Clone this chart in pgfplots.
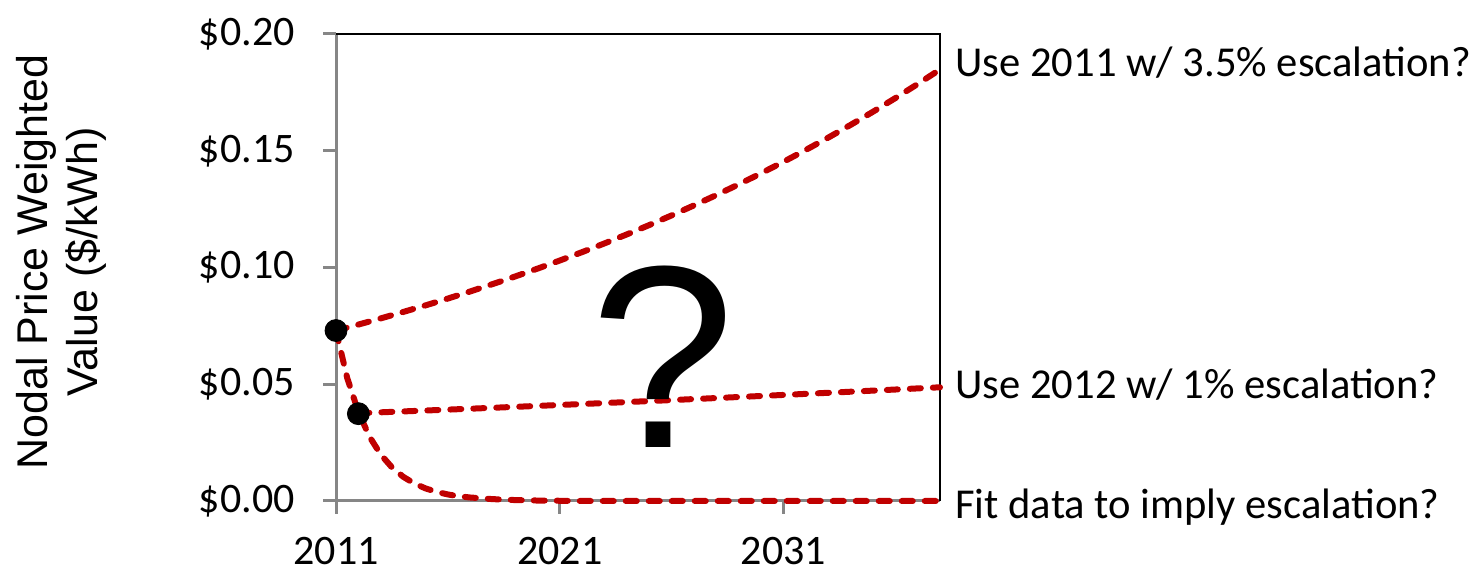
\documentclass[border=0pt]{standalone}
\usepackage{fontspec}
\setmainfont{Carlito}
\newfontfamily\arial{Liberation Sans}
\usepackage{pgfplots}
\pgfplotsset{compat=1.18}
\definecolor{dred}{HTML}{C00000}
\definecolor{axgray}{HTML}{868686}
\begin{document}
\begin{tikzpicture}
\begin{axis}[
  set layers,
  at={(168pt,35.5pt)}, anchor=south west,
  scale only axis, width=302pt, height=233.5pt,
  xmin=2011, xmax=2038, ymin=0, ymax=0.2,
  axis lines*=left,
  axis line style={axgray, line width=1.5pt, -},
  xtick={2011,2021,2031}, xticklabels={2011,2021,2031},
  ytick={0,0.05,0.1,0.15,0.2},
  yticklabels={\$0.00,\$0.05,\$0.10,\$0.15,\$0.20},
  tick align=outside, major tick length=6.5pt,
  tick style={axgray, line width=1.5pt},
  ticklabel style={font=\fontsize{21}{25}\selectfont, inner sep=0pt},
  yticklabel style={anchor=east, xshift=-14pt},
  xticklabel style={anchor=north, yshift=-11.5pt},
  clip=false,
]
\draw[black, line width=1.3pt] (rel axis cs:0,1) -- (rel axis cs:1,1) -- (rel axis cs:1,0);
\addplot[only marks, mark=*, mark size=5.5pt, black] coordinates {(2011,0.0730) (2012,0.0374)};
\addplot[dred, line width=3pt, line cap=round, dash pattern=on 5.5pt off 6pt] coordinates {
(2011,0.0730) (2012,0.07556) (2013,0.07820) (2014,0.08094) (2015,0.08377) (2016,0.08670)
(2017,0.08974) (2018,0.09288) (2019,0.09613) (2020,0.09949) (2021,0.10297) (2022,0.10658)
(2023,0.11031) (2024,0.11417) (2025,0.11816) (2026,0.12230) (2027,0.12658) (2028,0.13101)
(2029,0.13560) (2030,0.14034) (2031,0.14525) (2032,0.15034) (2033,0.15560) (2034,0.16105)
(2035,0.16668) (2036,0.17252) (2037,0.17856) (2038,0.18480)};
\addplot[dred, line width=3pt, line cap=round, dash pattern=on 5.5pt off 6pt] coordinates {
(2012,0.0376) (2014,0.03836) (2016,0.03913) (2018,0.03991) (2020,0.04072) (2022,0.04153)
(2024,0.04237) (2026,0.04322) (2028,0.04409) (2030,0.04497) (2032,0.04588) (2034,0.04680)
(2036,0.04774) (2038,0.04870)};
\addplot[dred, line width=3pt, line cap=round, dash pattern=on 5.5pt off 6pt] coordinates {
(2011,0.0730) (2011.5,0.0527) (2012,0.0381) (2012.5,0.0275) (2013,0.0199) (2013.5,0.0144)
(2014,0.0104) (2014.5,0.0075) (2015,0.0054) (2015.5,0.0039) (2016,0.0028) (2016.5,0.0020)
(2017,0.0015) (2018,0.0008) (2019,0.0004) (2020,0.0002) (2021,0.0001) (2022,0.0000)
(2030,0.0000) (2038,0.0000)};
\node[anchor=base, inner sep=0pt, font=\arial\fontsize{130}{132}\selectfont] at (axis cs:2025.6,0.0231) {?};
\node[anchor=base west, inner sep=0pt, xshift=7.5pt, font=\fontsize{21.3}{25}\selectfont] at (axis cs:2038,0.1816) {Use 2011 w/ 3.5\% escalation?};
\node[anchor=base west, inner sep=0pt, xshift=7.5pt, font=\fontsize{21.3}{25}\selectfont] at (axis cs:2038,0.0437) {Use 2012 w/ 1\% escalation?};
\node[anchor=base west, inner sep=0pt, xshift=7.5pt, font=\fontsize{21.3}{25}\selectfont] at (axis cs:2038,-0.0077) {Fit data to imply escalation?};
\end{axis}
\node[rotate=90, align=center, inner sep=0pt, font=\arial\fontsize{21.5}{25}\selectfont] at (30.5pt,155pt) {Nodal Price Weighted\\Value (\$/kWh)};
\pgfresetboundingbox
\path[use as bounding box] (0,0) rectangle (736pt,286pt);
\end{tikzpicture}
\end{document}
